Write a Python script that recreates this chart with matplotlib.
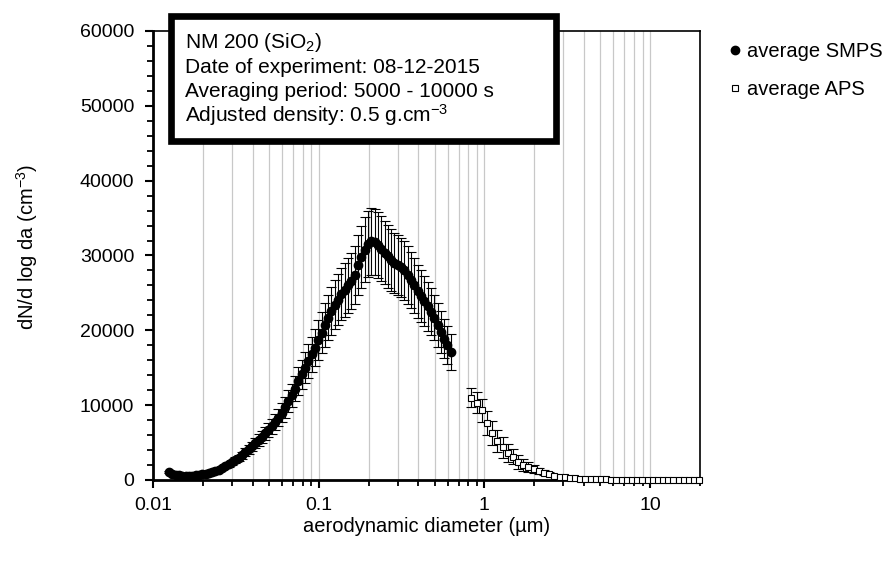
import matplotlib
matplotlib.use("Agg")
import matplotlib.pyplot as plt
from matplotlib.lines import Line2D
from matplotlib.patches import Rectangle
from matplotlib.ticker import FixedLocator, FuncFormatter, MultipleLocator, LogLocator, NullFormatter

plt.rcParams['font.family'] = ['Liberation Sans', 'DejaVu Sans']
plt.rcParams['mathtext.fontset'] = 'custom'
plt.rcParams['mathtext.rm'] = 'Liberation Sans'
plt.rcParams['mathtext.default'] = 'regular'

# ---------------- data ----------------
smps_d = [0.01250, 0.01309, 0.01371, 0.01435, 0.01503, 0.01574, 0.01648, 0.01725, 0.01807, 0.01892,
          0.01981, 0.02075, 0.02173, 0.02275, 0.02382, 0.02495, 0.02612, 0.02735, 0.02864, 0.02999,
          0.03141, 0.03289, 0.03444, 0.03606, 0.03776, 0.03954, 0.04141, 0.04336, 0.04540, 0.04754,
          0.04977, 0.05212, 0.05458, 0.05715, 0.05984, 0.06266, 0.06561, 0.06871, 0.07194, 0.07534,
          0.07889, 0.08260, 0.08650, 0.09057, 0.09484, 0.09931, 0.1040, 0.1089, 0.1140, 0.1194,
          0.1250, 0.1309, 0.1371, 0.1435, 0.1503, 0.1574, 0.1648, 0.1725, 0.1807, 0.1892,
          0.1982, 0.2075, 0.2173, 0.2275, 0.2382, 0.2495, 0.2612, 0.2735, 0.2864, 0.2999,
          0.3141, 0.3289, 0.3444, 0.3606, 0.3776, 0.3954, 0.4141, 0.4336, 0.4540, 0.4754,
          0.4977, 0.5212, 0.5458, 0.5715, 0.5984, 0.6266]
smps_n = [1100, 850, 700, 620, 580, 560, 560, 580, 620, 680,
          750, 850, 950, 1080, 1230, 1400, 1600, 1830, 2080, 2350,
          2650, 2980, 3330, 3700, 4100, 4500, 4900, 5350, 5800, 6250,
          6700, 7200, 7750, 8350, 9000, 9700, 10500, 11300, 12200, 13200,
          14100, 15000, 15900, 16800, 17700, 18700, 19700, 20700, 21700, 22600,
          23400, 24100, 24800, 25400, 26000, 26600, 27400, 28700, 29800, 30800,
          31500, 31900, 31800, 31400, 30900, 30400, 29900, 29400, 29000, 28700,
          28400, 28000, 27400, 26700, 26000, 25200, 24600, 23900, 23200, 22500,
          21700, 20700, 19800, 18900, 18000, 17100]
smps_err = [150, 120, 100, 90, 80, 80, 80, 80, 90, 100,
            100, 120, 130, 150, 170, 200, 220, 260, 290, 330,
            370, 420, 470, 520, 570, 630, 690, 750, 810, 880,
            940, 1010, 1090, 1170, 1260, 1360, 1470, 1580, 1710, 1850,
            1970, 2100, 2230, 2350, 2480, 2620, 2760, 2900, 3040, 3160,
            3280, 3370, 3470, 3560, 3640, 3720, 3840, 4020, 4170, 4310,
            4410, 4470, 4450, 4400, 4330, 4260, 4190, 4120, 4060, 4020,
            3980, 3920, 3840, 3740, 3640, 3530, 3440, 3350, 3250, 3150,
            3040, 2900, 2770, 2650, 2520, 2390]

aps_d = [0.835, 0.898, 0.965, 1.037, 1.114, 1.197, 1.286, 1.382, 1.486, 1.596,
         1.715, 1.843, 1.981, 2.129, 2.288, 2.458, 2.642, 2.839, 3.051, 3.278,
         3.523, 3.786, 4.068, 4.371, 4.698, 5.048, 5.425, 5.829, 6.264, 6.732,
         7.234, 7.774, 8.354, 8.977, 9.647, 10.37, 11.14, 11.97, 12.86, 13.82,
         14.86, 15.96, 17.15, 18.43, 19.81]
aps_n = [11000, 10300, 9300, 7600, 6300, 5200, 4400, 3600, 3100, 2400,
         2000, 1700, 1450, 1200, 1000, 800, 600, 450, 350, 280,
         220, 180, 150, 120, 100, 80, 70, 60, 50, 45,
         40, 35, 30, 28, 25, 22, 20, 18, 16, 14,
         12, 10, 9, 8, 7]
aps_err = [1300, 1400, 1500, 1600, 1600, 1500, 1400, 1200, 1000, 900,
           800, 650, 550, 450, 350, 280, 220, 170, 130, 100,
           80, 60, 50, 40, 30, 25, 20, 18, 15, 12,
           10, 9, 8, 7, 6, 5, 5, 4, 4, 3,
           3, 3, 2, 2, 2]

x_major = [0.01, 0.1, 1, 10]
y_major = [0, 10000, 20000, 30000, 40000, 50000, 60000]

box_lines = ["NM 200 (SiO$_2$)",
             "Date of experiment: 08-12-2015",
             "Averaging period: 5000 - 10000 s",
             "Adjusted density: 0.5 g.cm$^{-3}$"]

# ---------------- figure ----------------
W, H = 892, 561
fig = plt.figure(figsize=(W / 100, H / 100), dpi=100)
ax = fig.add_axes([153 / W, 1 - 480 / H, (700 - 153) / W, (480 - 31) / H])

ax.set_xscale('log')
ax.set_xlim(0.01, 20)
ax.set_ylim(0, 60000)

ax.errorbar(smps_d, smps_n, yerr=smps_err, fmt='none', ecolor='black',
            elinewidth=0.8, capsize=3.5, capthick=0.8, zorder=3)
ax.plot(smps_d, smps_n, 'o', color='black', markersize=6.0, zorder=4)

ax.errorbar(aps_d, aps_n, yerr=aps_err, fmt='none', ecolor='black',
            elinewidth=0.8, capsize=3.5, capthick=0.8, zorder=3)
ax.plot(aps_d, aps_n, 's', markerfacecolor='white', markeredgecolor='black',
        markeredgewidth=0.8, markersize=4.8, zorder=4, clip_on=False)

# ticks
ax.xaxis.set_major_locator(FixedLocator(x_major))
ax.xaxis.set_major_formatter(FuncFormatter(lambda v, p: '%g' % v))
ax.xaxis.set_minor_locator(LogLocator(base=10, subs=[2, 3, 4, 5, 6, 7, 8, 9], numticks=20))
ax.xaxis.set_minor_formatter(NullFormatter())
ax.yaxis.set_major_locator(FixedLocator(y_major))
ax.yaxis.set_major_formatter(FuncFormatter(lambda v, p: '%d' % v))
ax.yaxis.set_minor_locator(MultipleLocator(2000))

ax.tick_params(axis='both', which='major', direction='out', length=5.5, width=1.5,
               labelsize=14, colors='black')
ax.tick_params(axis='both', which='minor', direction='out', length=4, width=1.3)
ax.tick_params(axis='x', which='major', pad=7)
ax.tick_params(axis='y', which='major', pad=8)

ax.grid(True, which='both', axis='x', color='#c8c8c8', linewidth=0.9, zorder=0)
ax.set_axisbelow(True)

for side in ['left', 'bottom']:
    ax.spines[side].set_linewidth(2.0)
for side in ['top', 'right']:
    ax.spines[side].set_linewidth(1.2)

ax.set_xlabel('aerodynamic diameter (µm)', fontsize=14.5)
ax.xaxis.set_label_coords(0.5, (480 - 517) / 449)
ax.set_ylabel('dN/d log da (cm$^{-3}$)', fontsize=14.5)
ax.yaxis.set_label_coords((40 - 153) / 547, (480 - 247) / 449)

# legend
handles = [Line2D([], [], marker='o', linestyle='none', color='black', markersize=6.0),
           Line2D([], [], marker='s', linestyle='none', markerfacecolor='white',
                  markeredgecolor='black', markeredgewidth=0.8, markersize=4.8)]
fig.legend(handles, ['average SMPS', 'average APS'], loc='upper left',
           bbox_to_anchor=(729 / W, 1 - 42 / H), frameon=False, fontsize=14.5,
           handlelength=0.6, handletextpad=0.3, labelspacing=0.95, borderaxespad=0,
           borderpad=0)

# text box
bx0, by0, bx1, by1 = 171, 16, 556, 141
rect = Rectangle((bx0 / W, 1 - by1 / H), (bx1 - bx0) / W, (by1 - by0) / H,
                 transform=fig.transFigure, facecolor='white', edgecolor='black',
                 linewidth=4.8, zorder=10)
fig.patches.append(rect)
baselines = [48, 73, 97, 122]
for t, y in zip(box_lines, baselines):
    fig.text(185 / W, 1 - y / H, t, fontsize=15, va='baseline', ha='left', zorder=11)

fig.savefig('out.png', dpi=100)
